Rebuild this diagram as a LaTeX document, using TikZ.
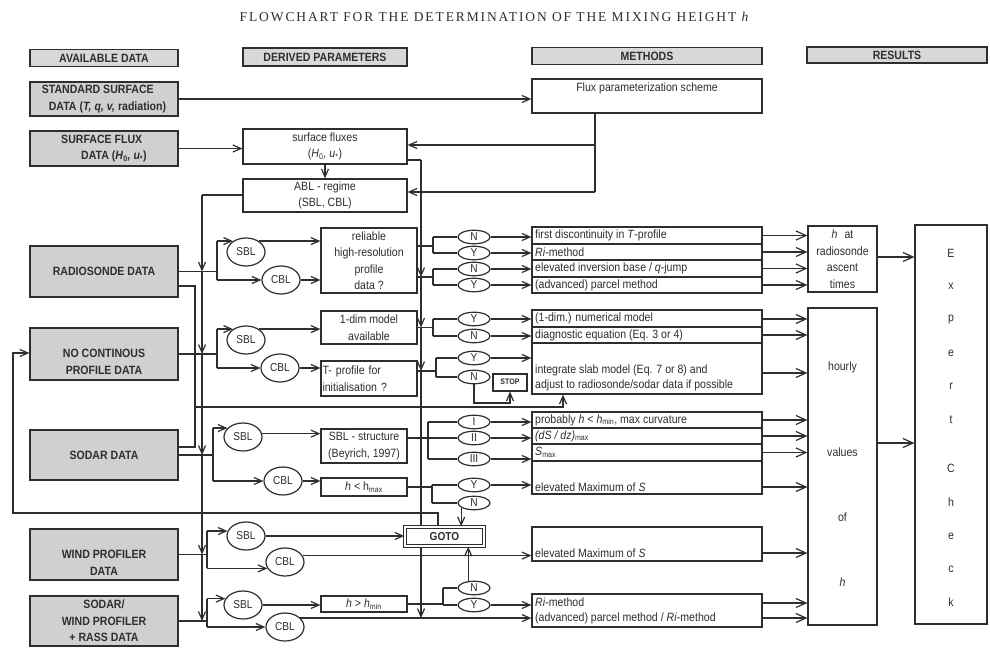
\documentclass[tikz,border=0pt]{standalone}
\usepackage{fontspec}
\setmainfont{Liberation Serif}
\newfontfamily\titlefont[LetterSpace=14]{Liberation Serif}
\newfontfamily\nar[FakeStretch=0.88]{Liberation Sans}
\usetikzlibrary{arrows.meta,shapes.geometric}
\definecolor{ink}{HTML}{2E2E2E}
\definecolor{boxgrey}{HTML}{D0D0D0}
\definecolor{hdrgrey}{HTML}{D8D8D8}
\tikzset{
  ln/.style={draw=ink, line width=1.2pt},
  arr/.style={ln, -{Straight Barb[length=8pt,width=7pt]}},
  bigarr/.style={ln, -{Straight Barb[length=10pt,width=9pt]}},
  greybox/.style={draw=ink, line width=1.2pt, fill=boxgrey, text=ink, inner sep=0pt, align=center,
     font=\nar\bfseries\fontsize{12}{16.5}\selectfont},
  hdrbox/.style={greybox, fill=hdrgrey, font=\nar\bfseries\fontsize{12}{13}\selectfont},
  wbox/.style={draw=ink, line width=1.2pt, fill=white, text=ink, inner sep=0pt, align=center,
     font=\nar\fontsize{12}{16.5}\selectfont},
  oval/.style={ellipse, draw=ink, line width=1.2pt, fill=white, inner sep=0pt, text=ink,
     font=\nar\fontsize{11.5}{12}\selectfont},
  yn/.style={oval, minimum width=32pt, minimum height=13.5pt},
  bl/.style={oval, minimum width=38pt, minimum height=28pt},
  mtxt/.style={anchor=west, inner sep=0pt, text=ink, font=\nar\fontsize{12}{13}\selectfont},
  ctxt/.style={inner sep=0pt, text=ink, font=\nar\fontsize{12}{13}\selectfont},
  dtxt/.style={inner sep=0pt, text=ink, align=center, font=\nar\bfseries\fontsize{12}{16.5}\selectfont},
  stopbox/.style={draw=ink, line width=2pt, fill=white, text=ink, inner sep=0pt,
     font=\nar\bfseries\fontsize{8}{9}\selectfont},
  gotobox/.style={draw=ink, double=white, double distance=1.4pt, line width=1.3pt, fill=white,
     text=ink, inner sep=0pt, font=\nar\bfseries\fontsize{11.5}{12}\selectfont},
}
\begin{document}
\begin{tikzpicture}[x=1pt,y=-1pt]
\fill[white] (0,0) rectangle (990,652);
\useasboundingbox (0,0) rectangle (990,652);

\node[text=ink, font=\titlefont\fontsize{13.5}{15}\selectfont] (title) at (495,17)
  {FLOWCHART FOR THE DETERMINATION OF THE MIXING HEIGHT \textit{h}};

% headers
\node[hdrbox, minimum width=148pt, minimum height=17pt] (hA) at (104,58) {AVAILABLE DATA};
\node[hdrbox, minimum width=164pt, minimum height=18pt] (hD) at (325,57) {DERIVED PARAMETERS};
\node[hdrbox, minimum width=230pt, minimum height=17pt] (hM) at (647,56) {METHODS};
\node[hdrbox, minimum width=180pt, minimum height=16pt] (hR) at (897,55) {RESULTS};

% available data
\node[greybox, minimum width=148pt, minimum height=34pt, align=left] (std) at (104,99)
  {STANDARD SURFACE\\\hspace*{7pt}DATA (\textit{T, q, v,} radiation)};
\node[greybox, minimum width=148pt, minimum height=35pt, align=left] (sflux) at (104,148.5)
  {SURFACE FLUX\\\hspace*{20pt}DATA (\textit{H}\textsubscript{0}\textit{, u}\textsubscript{*})};
\node[greybox, minimum width=148pt, minimum height=51pt] (radio) at (104,271.5) {RADIOSONDE DATA};
\node[greybox, minimum width=148pt, minimum height=52pt] (nocont) at (104,354) {};
\node[dtxt] (nocontT) at (104,362) {NO CONTINOUS\\PROFILE DATA};
\node[greybox, minimum width=148pt, minimum height=50pt] (sodar) at (104,455) {SODAR DATA};
\node[greybox, minimum width=148pt, minimum height=51pt] (wind) at (104,554.5) {};
\node[dtxt] (windT) at (104,563) {WIND PROFILER\\DATA};
\node[greybox, minimum width=148pt, minimum height=50pt] (rass) at (104,621)
  {SODAR/\\WIND PROFILER\\+ RASS DATA};

% derived parameters
\node[wbox, minimum width=230pt, minimum height=34pt] (fps) at (647,96) {};
\node[ctxt] (fpsT) at (647,88) {Flux parameterization scheme};
\node[wbox, minimum width=164pt, minimum height=35pt] (surf) at (325,146.5)
  {surface fluxes\\(\textit{H}\textsubscript{0}\textit{, u}\textsubscript{*})};
\node[wbox, minimum width=164pt, minimum height=33pt] (abl) at (325,195.5) {ABL - regime\\(SBL, CBL)};
\node[wbox, minimum width=96pt, minimum height=65pt] (rel) at (369,260.5)
  {reliable\\high-resolution\\profile\\data ?};
\node[wbox, minimum width=96pt, minimum height=33pt] (one) at (369,327.5) {1-dim model\\available};
\node[wbox, minimum width=96pt, minimum height=35pt, text width=93pt, align=left] (tp) at (369,378.5)
  {T- profile for\\initialisation ?};
\node[wbox, minimum width=86pt, minimum height=34pt] (sbs) at (364,446) {SBL - structure\\(Beyrich, 1997)};
\node[wbox, minimum width=86pt, minimum height=18pt] (hmx) at (364,487) {\textit{h} < h\textsubscript{max}};
\node[wbox, minimum width=86pt, minimum height=16pt] (hmn) at (364,604) {\textit{h} > \textit{h}\textsubscript{min}};

% SBL / CBL ovals
\node[bl] (rsbl) at (246,252) {SBL};
\node[bl] (rcbl) at (281,280) {CBL};
\node[bl] (nsbl) at (246,340) {SBL};
\node[bl] (ncbl) at (280,368) {CBL};
\node[bl] (ssbl) at (243,437) {SBL};
\node[bl] (scbl) at (283,481) {CBL};
\node[bl] (wsbl) at (246,536) {SBL};
\node[bl] (wcbl) at (285,562) {CBL};
\node[bl] (fsbl) at (243,605) {SBL};
\node[bl] (fcbl) at (285,627) {CBL};

% Y / N ovals
\node[yn] (rN1) at (474,237) {N};
\node[yn] (rY1) at (474,253) {Y};
\node[yn] (rN2) at (474,269) {N};
\node[yn] (rY2) at (474,285) {Y};
\node[yn] (nY1) at (474,319) {Y};
\node[yn] (nN1) at (474,336) {N};
\node[yn] (nY2) at (474,358) {Y};
\node[yn] (nN2) at (474,377) {N};
\node[yn] (sI) at (474,422) {I};
\node[yn] (sII) at (474,438) {II};
\node[yn] (sIII) at (474,459) {III};
\node[yn] (sY) at (474,485) {Y};
\node[yn] (sN) at (474,503) {N};
\node[yn] (wN) at (474,588) {N};
\node[yn] (wY) at (474,605) {Y};

\node[stopbox, minimum width=34pt, minimum height=17pt] (stop) at (510,382) {STOP};

% methods
\node[wbox, minimum width=230pt, minimum height=66pt] (mR) at (647,260) {};
\node[wbox, minimum width=230pt, minimum height=84pt] (mN) at (647,352) {};
\node[wbox, minimum width=230pt, minimum height=82pt] (mS) at (647,453) {};
\node[wbox, minimum width=230pt, minimum height=34pt] (mW) at (647,544) {};
\node[wbox, minimum width=230pt, minimum height=33pt] (mF) at (647,610.5) {};
\foreach \yy in {244,260,277} \draw[ln] (mR.west |- 0,\yy) -- (mR.east |- 0,\yy);
\foreach \yy in {327,343} \draw[ln] (mN.west |- 0,\yy) -- (mN.east |- 0,\yy);
\foreach \yy in {428,444,461} \draw[ln] (mS.west |- 0,\yy) -- (mS.east |- 0,\yy);

\node[mtxt] (t1) at (535,235.5) {first discontinuity in \textit{T}-profile};
\node[mtxt] (t2) at (535,252) {\textit{Ri}-method};
\node[mtxt] (t3) at (535,268.5) {elevated inversion base / \textit{q}-jump};
\node[mtxt] (t4) at (535,285) {(advanced) parcel method};
\node[mtxt] (t5) at (535,318.5) {(1-dim.) numerical model};
\node[mtxt] (t6) at (535,335) {diagnostic equation (Eq. 3 or 4)};
\node[mtxt] (t7) at (535,370) {integrate slab model (Eq. 7 or 8) and};
\node[mtxt] (t8) at (535,385) {adjust to radiosonde/sodar data if possible};
\node[mtxt] (t9) at (535,420) {probably \textit{h} < \textit{h}\textsubscript{min}, max curvature};
\node[mtxt] (t10) at (535,436) {\textit{(dS / dz)}\textsubscript{max}};
\node[mtxt] (t11) at (535,452.5) {\textit{S}\textsubscript{max}};
\node[mtxt] (t12) at (535,487) {elevated Maximum of \textit{S}};
\node[mtxt] (t13) at (535,553) {elevated Maximum of \textit{S}};
\node[mtxt] (t14) at (535,602) {\textit{Ri}-method};
\node[mtxt] (t15) at (535,618) {(advanced) parcel method / \textit{Ri}-method};

% results
\node[wbox, minimum width=69pt, minimum height=66pt] (rr) at (842.5,259)
  {\textit{h}\,\, at\\radiosonde\\ascent\\times};
\node[wbox, minimum width=69pt, minimum height=317pt] (rh) at (842.5,466.5) {};
\node[ctxt] (rh1) at (842.5,367) {hourly};
\node[ctxt] (rh2) at (842.5,452) {values};
\node[ctxt] (rh3) at (842.5,517) {of};
\node[ctxt] (rh4) at (842.5,582) {\textit{h}};
\node[wbox, minimum width=72pt, minimum height=399pt] (ex) at (951,424.5) {};
\foreach \ch/\yy [count=\i] in {E/253,x/286,p/320,e/353,r/386,t/420,C/468,h/502,e/536,c/569,k/602}
  \node[ctxt] (ex\i) at (951,\yy) {\ch};

% ---------- connectors ----------
\draw[arr] (std.east) -- (std.east -| fps.west);
\draw[arr] (sflux.east) -- (sflux.east -| surf.west);
\coordinate (f1) at (595,145);
\coordinate (f2) at (595,192);
\draw[ln] (fps.south -| f1) -- (f2);
\draw[arr] (f1) -- (f1 -| surf.east);
\draw[arr] (f2) -- (f2 -| abl.east);
\draw[arr] (surf.south) -- (abl.north);

% vertical from surface fluxes (x=421)
\coordinate (v1) at (421,160);
\coordinate (k1) at (433,246);
\coordinate (k2) at (433,277);
\coordinate (k4) at (436,371);
\draw[ln] (surf.east |- v1) -- (v1);
\draw[arr] (v1) -- (v1 |- k2);
\draw[arr] (v1 |- k2) -- (v1 |- one.east);
\draw[arr] (v1 |- one.east) -- (v1 |- k4);
\draw[arr] (v1 |- k4) -- (v1 |- fcbl.30);

% vertical from ABL regime (x=202)
\coordinate (b0) at (202,195);
\draw[ln] (abl.west |- b0) -- (b0);
\draw[arr] (b0) -- (b0 |- radio.east);
\draw[arr] (b0 |- radio.east) -- (b0 |- nocont.east);
\draw[arr] (b0 |- nocont.east) -- (b0 |- sodar.east);
\draw[arr] (b0 |- sodar.east) -- (b0 |- wind.east);
\draw[arr] (b0 |- wind.east) -- (b0 |- rass.east);

% radiosonde / sodar to slab model (x=195)
\coordinate (c1) at (195,286);
\coordinate (c2) at (195,447);
\coordinate (c3) at (195,407);
\coordinate (c4) at (563,407);
\draw[ln] (radio.east |- c1) -- (c1) -- (c2) -- (sodar.east |- c2);
\draw[arr] (c3) -- (c4) -- (c4 |- mN.south);

% forks on the left
\coordinate (rf) at (217,0);
\draw[ln] (radio.east) -- (radio.east -| rf);
\draw[ln] (rf |- rsbl.140) -- (rf |- rcbl.west);
\draw[arr] (rf |- rsbl.140) -- (rsbl.140);
\draw[arr] (rf |- rcbl.west) -- (rcbl.west);
\draw[arr] (rsbl.40) -- (rsbl.40 -| rel.west);
\draw[arr] (rcbl.east) -- (rcbl.east -| rel.west);

\coordinate (nf) at (217,0);
\draw[ln] (nocont.east) -- (nocont.east -| nf);
\draw[ln] (nf |- nsbl.140) -- (nf |- ncbl.west);
\draw[arr] (nf |- nsbl.140) -- (nsbl.140);
\draw[arr] (nf |- ncbl.west) -- (ncbl.west);
\draw[arr] (nsbl.40) -- (nsbl.40 -| one.west);
\draw[arr] (ncbl.east) -- (ncbl.east -| tp.west);

\coordinate (sf) at (213,0);
\draw[ln] (sodar.east) -- (sodar.east -| sf);
\draw[ln] (sf |- ssbl.150) -- (sf |- scbl.west);
\draw[arr] (sf |- ssbl.150) -- (ssbl.150);
\draw[arr] (sf |- scbl.west) -- (scbl.west);
\draw[arr] (ssbl.10) -- (ssbl.10 -| sbs.west);
\draw[arr] (scbl.east) -- (scbl.east -| hmx.west);

\coordinate (wf) at (207,0);
\draw[ln] (wind.east) -- (wind.east -| wf);
\draw[ln] (wf |- wsbl.165) -- (wf |- wcbl.200);
\draw[arr] (wf |- wsbl.165) -- (wsbl.165);
\draw[arr] (wf |- wcbl.200) -- (wcbl.200);
\draw[arr] (wcbl.20) -- (wcbl.20 -| mW.west);

\coordinate (ff) at (207,0);
\draw[ln] (rass.east) -- (rass.east -| ff);
\draw[ln] (ff |- fsbl.160) -- (ff |- fcbl.west);
\draw[arr] (ff |- fsbl.160) -- (fsbl.160);
\draw[arr] (ff |- fcbl.west) -- (fcbl.west);
\draw[arr] (fsbl.east) -- (fsbl.east -| hmn.west);
\draw[arr] (fcbl.30) -- (fcbl.30 -| mF.west);

% forks on the right
\coordinate (kx) at (433,0);
\draw[ln] (rel.east |- k1) -- (k1);
\draw[ln] (kx |- rN1) -- (kx |- rY1);
\draw[ln] (kx |- rN1) -- (rN1.west);
\draw[ln] (kx |- rY1) -- (rY1.west);
\draw[ln] (rel.east |- k2) -- (k2);
\draw[ln] (kx |- rN2) -- (kx |- rY2);
\draw[ln] (kx |- rN2) -- (rN2.west);
\draw[ln] (kx |- rY2) -- (rY2.west);
\foreach \o in {rN1,rY1,rN2,rY2,nY1,nN1,nY2,sI,sII,sIII,sY,wY}
  \draw[arr] (\o.east) -- (\o.east -| mR.west);

\draw[ln] (one.east) -- (one.east -| kx);
\draw[ln] (kx |- nY1) -- (kx |- nN1);
\draw[ln] (kx |- nY1) -- (nY1.west);
\draw[ln] (kx |- nN1) -- (nN1.west);

\draw[ln] (tp.east |- k4) -- (k4);
\draw[ln] (k4 |- nY2) -- (k4 |- nN2);
\draw[ln] (k4 |- nY2) -- (nY2.west);
\draw[ln] (k4 |- nN2) -- (nN2.west);
\coordinate (st) at (0,403);
\draw[arr] (nN2.south) -- (nN2.south |- st) -- (stop.south |- st) -- (stop.south);

\coordinate (sx) at (428,0);
\draw[ln] (sbs.east |- sII) -- (sII.west);
\draw[ln] (sx |- sI) -- (sx |- sIII);
\draw[ln] (sx |- sI) -- (sI.west);
\draw[ln] (sx |- sIII) -- (sIII.west);

\coordinate (hx) at (432,0);
\draw[ln] (hmx.east) -- (hmx.east -| hx);
\draw[ln] (hx |- sY) -- (hx |- sN);
\draw[ln] (hx |- sY) -- (sY.west);
\draw[ln] (hx |- sN) -- (sN.west);

\coordinate (mx) at (443,0);
\draw[ln] (hmn.east) -- (hmn.east -| mx);
\draw[ln] (mx |- wN) -- (mx |- wY);
\draw[ln] (mx |- wN) -- (wN.west);
\draw[ln] (mx |- wY) -- (wY.west);

% GOTO
\node[gotobox, minimum width=79pt, minimum height=19pt] (goto) at (444.5,536.5) {GOTO};
\draw[arr] (wsbl.east) -- (wsbl.east -| goto.west);
\draw[arr] (sN.200) -- (sN.200 |- goto.north);
\draw[arr] (wN.130) -- (wN.130 |- goto.south);
\coordinate (g1) at (438,513);
\coordinate (g2) at (13,513);
\coordinate (g3) at (13,353);
\draw[arr] (goto.north -| g1) -- (g1) -- (g2) -- (g3) -- (g3 -| nocont.west);

% methods -> results
\foreach \yy in {235.5,252,268.5,285}
  \draw[bigarr] (mR.east |- 0,\yy) -- (rr.west |- 0,\yy);
\foreach \yy in {319,335,373,420,436,452.5,487,553,603,618}
  \draw[bigarr] (mR.east |- 0,\yy) -- (rh.west |- 0,\yy);
\draw[bigarr] (rr.east |- 0,257) -- (ex.west |- 0,257);
\draw[bigarr] (rh.east |- 0,443) -- (ex.west |- 0,443);
\end{tikzpicture}
\end{document}
